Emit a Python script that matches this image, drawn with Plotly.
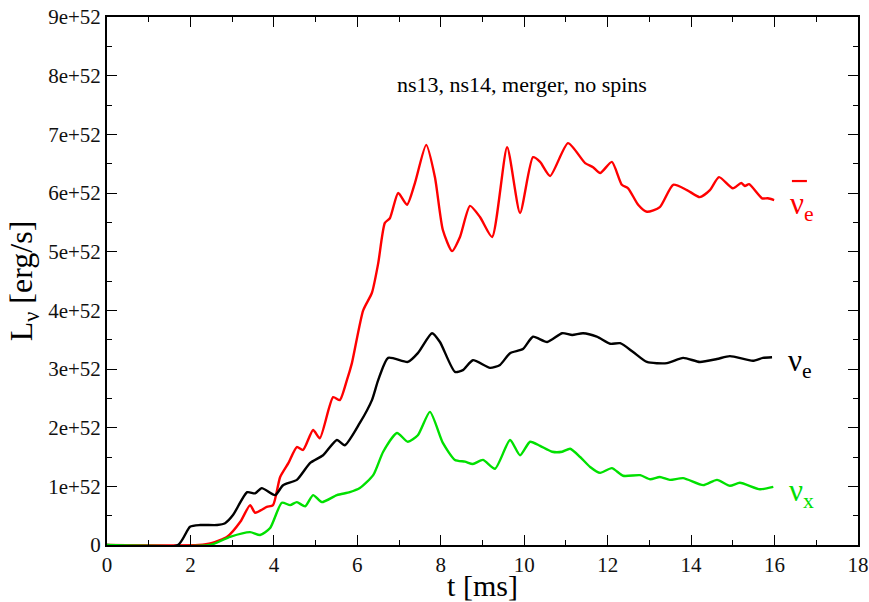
import plotly.graph_objects as go

# Neutrino luminosities (units of 1e52 erg/s) vs time in ms
t_nuebar = [0.0, 2.2, 2.5, 2.88, 3.2, 3.43, 3.55, 3.83, 3.98, 4.15, 4.35, 4.55, 4.7, 4.94, 5.1, 5.42, 5.58, 5.75,
            5.87, 6.14, 6.35, 6.5, 6.66, 6.78, 6.98, 7.19, 7.38, 7.65, 7.86, 8.05, 8.27, 8.46, 8.70, 8.94,
            9.23, 9.59, 9.90, 10.21, 10.38, 10.62, 11.05, 11.46, 11.65, 11.82, 12.10, 12.34, 12.49, 12.73,
            12.94, 13.25, 13.57, 13.90, 14.21, 14.45, 14.67, 15.0, 15.2, 15.29, 15.39, 15.70, 15.84, 15.99]
L_nuebar = [0.0, 0.0, 0.03, 0.14, 0.40, 0.68, 0.55, 0.65, 0.68, 1.16, 1.40, 1.67, 1.62, 1.96, 1.82, 2.52, 2.47, 2.81,
            3.10, 4.0, 4.30, 4.8, 5.49, 5.57, 6.0, 5.8, 6.17, 6.82, 6.27, 5.37, 5.01, 5.25, 5.78, 5.59,
            5.25, 6.78, 5.66, 6.61, 6.53, 6.29, 6.85, 6.51, 6.44, 6.34, 6.53, 6.14, 6.08, 5.80,
            5.68, 5.76, 6.14, 6.05, 5.93, 6.05, 6.27, 6.08, 6.17, 6.12, 6.15, 5.91, 5.91, 5.88]

t_nue = [0.0, 1.70, 1.99, 2.23, 2.64, 2.83, 3.02, 3.36, 3.55, 3.71, 4.03, 4.22, 4.55, 4.87, 5.18, 5.51, 5.70,
         6.06, 6.35, 6.50, 6.74, 7.21, 7.45, 7.79, 7.98, 8.34, 8.53, 8.77, 9.18, 9.42, 9.66, 9.97, 10.21,
         10.55, 10.91, 11.15, 11.41, 11.74, 12.06, 12.30, 12.61, 12.94, 13.42, 13.81, 14.21, 14.62, 14.93,
         15.48, 15.72, 15.94]
L_nue = [0.0, 0.0, 0.31, 0.34, 0.34, 0.37, 0.51, 0.90, 0.88, 0.97, 0.85, 1.02, 1.11, 1.40, 1.53, 1.79, 1.70,
         2.08, 2.47, 2.81, 3.19, 3.12, 3.27, 3.61, 3.46, 2.95, 2.98, 3.15, 3.02, 3.07, 3.27, 3.34, 3.55,
         3.46, 3.61, 3.58, 3.61, 3.55, 3.43, 3.44, 3.29, 3.12, 3.10, 3.19, 3.12, 3.17, 3.22,
         3.14, 3.19, 3.20]

t_nux = [0.0, 2.47, 2.95, 3.43, 3.67, 3.91, 4.19, 4.39, 4.55, 4.75, 4.94, 5.15, 5.51, 5.82, 6.06, 6.38, 6.62,
         6.95, 7.21, 7.45, 7.74, 8.05, 8.34, 8.58, 8.77, 9.01, 9.30, 9.66, 9.90, 10.14, 10.38, 10.67,
         10.91, 11.10, 11.34, 11.58, 11.82, 12.10, 12.37, 12.78, 13.02, 13.25, 13.49, 13.81, 14.29,
         14.62, 14.93, 15.17, 15.65, 15.97]
L_nux = [0.0, 0.0, 0.14, 0.22, 0.17, 0.29, 0.72, 0.68, 0.73, 0.66, 0.85, 0.73, 0.85, 0.90, 0.97, 1.19, 1.59,
         1.91, 1.76, 1.87, 2.27, 1.74, 1.45, 1.42, 1.38, 1.45, 1.30, 1.79, 1.53, 1.76, 1.69, 1.59,
         1.59, 1.64, 1.50, 1.33, 1.23, 1.31, 1.18, 1.19, 1.12, 1.16, 1.11, 1.14, 1.02,
         1.11, 1.01, 1.06, 0.95, 0.99]

x_tick_vals = [0, 2, 4, 6, 8, 10, 12, 14, 16, 18]
y_tick_vals = [0, 1, 2, 3, 4, 5, 6, 7, 8, 9]
y_tick_text = ["0", "1e+52", "2e+52", "3e+52", "4e+52", "5e+52", "6e+52", "7e+52", "8e+52", "9e+52"]

SCALE = 1e52
SERIF = "Liberation Serif"

# (time, luminosity, colour, label, label has an overbar)
series = [
    (t_nuebar, L_nuebar, "#ff0000", "ν<sub>e</sub>", True),
    (t_nue, L_nue, "#000000", "ν<sub>e</sub>", False),
    (t_nux, L_nux, "#00e000", "ν<sub>x</sub>", False),
]

fig = go.Figure()
for t, L, color, label, bar in series:
    fig.add_trace(go.Scatter(
        x=t, y=[v * SCALE for v in L], mode="lines",
        line=dict(color=color, width=2.4, shape="spline", smoothing=0.6),
        showlegend=False,
    ))
    x_lab = t[-1] + 0.33
    y_lab = L[-1] * SCALE
    fig.add_annotation(
        x=x_lab, y=y_lab, text=label, showarrow=False,
        xanchor="left", yanchor="middle", yshift=-6,
        font=dict(family=SERIF, size=31, color=color),
    )
    if bar:
        # overbar for the antineutrino symbol
        fig.add_shape(
            type="line", xref="x", yref="y",
            xsizemode="pixel", ysizemode="pixel",
            xanchor=x_lab, yanchor=y_lab,
            x0=4, x1=19, y0=19, y1=19,
            line=dict(color=color, width=2.2),
        )

fig.add_annotation(
    x=0.553, y=0.872, xref="paper", yref="paper", text="ns13, ns14, merger, no spins",
    showarrow=False, font=dict(family=SERIF, size=22, color="black"),
    xanchor="center", yanchor="middle",
)

axis_common = dict(
    showgrid=False, zeroline=False, showline=True, linecolor="black", linewidth=2,
    mirror="ticks", ticks="inside", ticklen=10, tickwidth=1.3, tickcolor="black",
    tickfont=dict(family=SERIF, size=21, color="#111"), automargin=False,
)

fig.update_xaxes(
    range=[0, 18], tickvals=x_tick_vals,
    minor=dict(ticks="inside", ticklen=5, tickwidth=1.3, tickcolor="black", dtick=1, tick0=0),
    title=dict(text="t [ms]", font=dict(family=SERIF, size=30, color="black"), standoff=0),
    **axis_common,
)
fig.update_yaxes(
    range=[0, 9 * SCALE], tickvals=[v * SCALE for v in y_tick_vals], ticktext=y_tick_text,
    minor=dict(ticks="inside", ticklen=5, tickwidth=1.3, tickcolor="black", dtick=0.5 * SCALE, tick0=0),
    title=dict(text="L<sub>ν</sub> [erg/s]", font=dict(family=SERIF, size=32, color="black"), standoff=6),
    **axis_common,
)

fig.update_layout(
    width=869, height=602,
    margin=dict(l=107, r=11, t=17, b=57),
    paper_bgcolor="white", plot_bgcolor="white",
)

fig.write_html("out.html")
